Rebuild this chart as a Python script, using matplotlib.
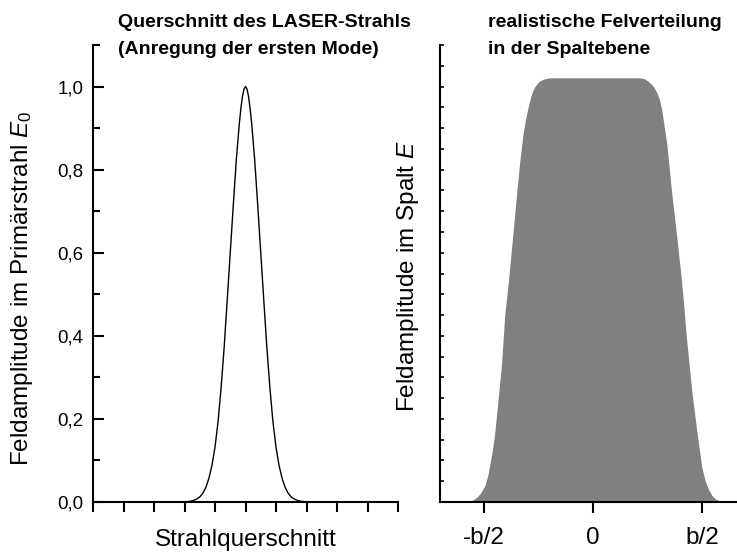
import matplotlib
matplotlib.use('Agg')
import matplotlib.pyplot as plt
import numpy as np

plt.rcParams['font.family'] = ['Liberation Sans', 'DejaVu Sans']
plt.rcParams['mathtext.fontset'] = 'custom'
plt.rcParams['mathtext.rm'] = 'Liberation Sans'
plt.rcParams['mathtext.it'] = 'Liberation Sans:italic'

# Left panel: beam cross section
beam_x = [3.0, 3.1, 3.2, 3.3, 3.4, 3.5, 3.6, 3.7, 3.8, 3.9, 4.0,
          4.1, 4.2, 4.3, 4.4, 4.5, 4.6, 4.7, 4.8, 4.85, 4.9, 4.95, 5.0,
          5.05, 5.1, 5.15, 5.2, 5.3, 5.4, 5.5, 5.6, 5.7, 5.8, 5.9, 6.0,
          6.1, 6.2, 6.3, 6.4, 6.5, 6.6, 6.7, 6.8, 6.9, 7.0]
beam_y = [0.0, 0.001, 0.002, 0.004, 0.007, 0.012, 0.021, 0.035, 0.057, 0.088, 0.132,
          0.193, 0.275, 0.372, 0.485, 0.60, 0.715, 0.825, 0.913, 0.948, 0.976, 0.994, 1.0,
          0.994, 0.976, 0.948, 0.913, 0.825, 0.715, 0.60, 0.485, 0.372, 0.275, 0.193, 0.132,
          0.088, 0.057, 0.035, 0.021, 0.012, 0.007, 0.004, 0.002, 0.001, 0.0]
beam_ticks = list(range(0, 11))
left_yticks = [0.0, 0.2, 0.4, 0.6, 0.8, 1.0]
left_ylabels = ['0,0', '0,2', '0,4', '0,6', '0,8', '1,0']

# Right panel: field distribution in the slit plane
slit_x = [-1.4, -1.2, -1.144, -1.10, -1.067, -1.03, -0.991, -0.965, -0.945, -0.92,
          -0.90, -0.87, -0.84, -0.81, -0.775, -0.73, -0.70, -0.67, -0.64, -0.62,
          -0.60, -0.58, -0.56, -0.54, -0.52, -0.50, -0.47, -0.44, -0.39,
          0.0, 0.43, 0.47, 0.50, 0.53, 0.56, 0.584, 0.61, 0.63, 0.65, 0.676,
          0.722, 0.768, 0.807, 0.83, 0.859, 0.905, 0.951, 0.997, 1.03, 1.058,
          1.09, 1.12, 1.15, 1.2, 1.33]
slit_y = [0.0, 0.0, 0.002, 0.005, 0.011, 0.022, 0.04, 0.065, 0.093, 0.13,
          0.17, 0.25, 0.33, 0.45, 0.535, 0.66, 0.745, 0.825, 0.89, 0.92,
          0.945, 0.967, 0.985, 0.997, 1.005, 1.011, 1.016, 1.019, 1.021,
          1.021, 1.021, 1.019, 1.014, 1.007, 0.998, 0.986, 0.968, 0.945, 0.91, 0.864,
          0.744, 0.639, 0.545, 0.48, 0.39, 0.27, 0.173, 0.085, 0.05, 0.031,
          0.016, 0.008, 0.004, 0.001, 0.0]
slit_ticks = [-1, 0, 1]
slit_labels = ['-b/2', '0', 'b/2']

fig = plt.figure(figsize=(7.37, 5.58), dpi=100)
W, H = 737, 558

def frac(x0, y0, x1, y1):
    return [x0 / W, 1 - y1 / H, (x1 - x0) / W, (y1 - y0) / H]

ax1 = fig.add_axes(frac(93, 45, 398, 502))
ax2 = fig.add_axes(frac(440, 45, 737, 502))

for ax in (ax1, ax2):
    ax.spines['top'].set_visible(False)
    ax.spines['right'].set_visible(False)
    ax.spines['left'].set_linewidth(1.5)
    ax.spines['bottom'].set_linewidth(1.5)
    ax.set_ylim(0, 1.1)

# left
ax1.plot(beam_x, beam_y, color='black', lw=1.0)
ax1.set_xlim(0, 10)
ax1.set_xticks(beam_ticks)
ax1.set_xticklabels([])
ax1.tick_params(axis='x', direction='out', length=7, width=1.5)
ax1.set_yticks(left_yticks)
ax1.set_yticklabels(left_ylabels, fontsize=13.5)
ax1.set_yticks(np.arange(0.1, 1.11, 0.2), minor=True)
ax1.tick_params(axis='y', which='major', direction='in', length=8, width=1.5, pad=7)
ax1.tick_params(axis='y', which='minor', direction='in', length=5, width=1.5)
ax1.set_xlabel('Strahlquerschnitt', fontsize=17.5)
ax1.xaxis.set_label_coords(0.5, -0.06)
ax1.set_ylabel(r'Feldamplitude im Primärstrahl $\mathit{E}_0$', fontsize=17.5)
ax1.yaxis.set_label_coords(-0.19, 0.468)

# right
ax2.fill_between(slit_x, slit_y, 0, color='#808080', lw=0)
ax2.set_xlim(-1.404, 1.321)
ax2.set_xticks(slit_ticks)
ax2.set_xticklabels(slit_labels, fontsize=17.5)
ax2.tick_params(axis='x', direction='out', length=8, width=1.5, pad=10)
ax2.set_yticks(np.arange(0, 1.101, 0.05))
ax2.set_yticklabels([])
ax2.tick_params(axis='y', direction='in', length=3, width=1.2)
ax2.set_ylabel(r'Feldamplitude im Spalt $\mathit{E}$', fontsize=17.5)
ax2.yaxis.set_label_coords(-0.064, 0.495)

fig.text(118 / W, 1 - 14 / H, 'Querschnitt des LASER-Strahls\n(Anregung der ersten Mode)',
         fontsize=14, fontweight='bold', ha='left', va='top', linespacing=1.75)
fig.text(488 / W, 1 - 14 / H, 'realistische Felverteilung\nin der Spaltebene',
         fontsize=14, fontweight='bold', ha='left', va='top', linespacing=1.75)

fig.savefig('out.png', dpi=100)
